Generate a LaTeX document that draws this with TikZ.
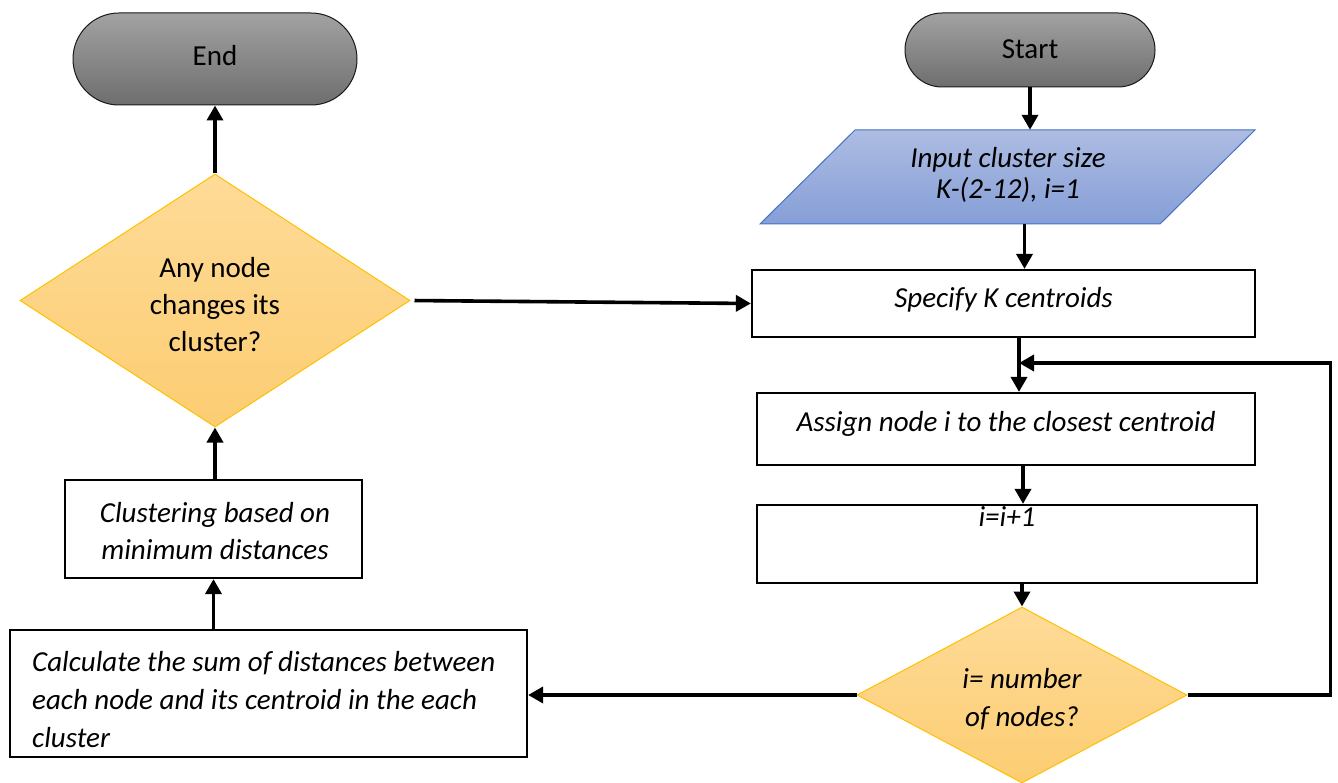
\documentclass[tikz,border=0pt]{standalone}
\usepackage{fontspec}
\setmainfont{Carlito}
\usetikzlibrary{shapes.geometric,shapes.misc,arrows.meta}

\definecolor{termtop}{HTML}{A2A2A2}
\definecolor{termbot}{HTML}{6E6E6E}
\definecolor{iotop}{HTML}{ADBCE2}
\definecolor{iobot}{HTML}{869FD7}
\definecolor{ioedge}{HTML}{4472C4}
\definecolor{dectop}{HTML}{FEDB98}
\definecolor{decbot}{HTML}{FCCD72}
\definecolor{decedge}{HTML}{FFC000}

\begin{document}
\begin{tikzpicture}[x=1pt,y=-1pt,
  font=\fontsize{29}{37}\selectfont,
  flow/.style={line width=3.6pt, -{Triangle[length=15pt,width=16pt]}},
  proc/.style={rectangle, draw=black, line width=2.2pt, fill=white, inner sep=0pt},
  term/.style={rounded rectangle, draw=black!90, line width=1pt,
    top color=termtop, bottom color=termbot, inner sep=0pt},
  iofill/.style={draw=ioedge, line width=1pt, top color=iotop, bottom color=iobot},
  decision/.style={diamond, draw=decedge, line width=1pt,
    top color=dectop, bottom color=decbot, inner sep=0pt},
  txt/.style={align=center, inner sep=0pt},
  itx/.style={align=center, inner sep=0pt, font=\fontsize{29}{37}\selectfont\itshape}
]
\useasboundingbox (0,0) rectangle (1338,783);

% terminals
\node[term, minimum width=250pt, minimum height=74pt] (start) at (1030,50) {};
\node[txt] (startT) at (1030,49) {Start};
\node[term, minimum width=284pt, minimum height=92pt] (end) at (215,59) {};
\node[txt] (endT) at (215,56) {End};

% input parallelogram
\node[rectangle, inner sep=0pt, minimum width=400pt, minimum height=94pt] (input) at (1007.5,177) {};
\shade[iofill] (760,224) -- (855,130) -- (1255,130) -- (1160,224) -- cycle;
\node[itx, font=\fontsize{29}{31}\selectfont\itshape] (inputT) at (1008,175) {Input cluster size\\K-(2-12), i=1};

% process boxes on the right
\node[proc, minimum width=503pt, minimum height=67pt] (spec) at (1003.5,303.5) {};
\node[itx] (specT) at (1003.5,300) {Specify K centroids};
\node[proc, minimum width=498pt, minimum height=72pt] (assign) at (1006,429) {};
\node[itx] (assignT) at (1006,424) {Assign node i to the closest centroid};
\node[proc, minimum width=500pt, minimum height=78pt] (inc) at (1007,544) {};
\node[itx] (incT) at (1007,517) {i=i+1};

% loop test
\node[decision, minimum width=330pt, minimum height=176pt] (d2) at (1022,695) {};
\node[itx, font=\fontsize{29}{38}\selectfont\itshape] (d2T) at (1022,699) {i= number\\of nodes?};

% left column
\node[proc, minimum width=517pt, minimum height=127pt] (calc) at (268.5,693.5) {};
\node[inner sep=0pt, align=left, anchor=west, font=\fontsize{29}{38}\selectfont\itshape] (calcT) at (32,700)
  {Calculate the sum of distances between\\each node and its centroid in the each\\cluster};
\node[proc, minimum width=297pt, minimum height=98pt] (clus) at (213.5,529) {};
\node[itx] (clusT) at (215,531) {Clustering based on\\minimum distances};

\node[decision, minimum width=390pt, minimum height=253pt] (d1) at (215,300.5) {};
\node[txt] (d1T) at (215,305) {Any node\\changes its\\cluster?};

% connectors
\draw[flow] (start.south) -- (start.south |- input.north);
\draw[flow] ([xshift=17pt]input.south) -- ([xshift=17pt]input.south |- spec.north);
\draw[flow] ([xshift=15.5pt]spec.south) -- ([xshift=15.5pt]spec.south |- assign.north);
\draw[flow] ([xshift=17pt]assign.south) -- ([xshift=17pt]assign.south |- inc.north);
\draw[flow] (inc.south -| d2.north) -- (d2.north);
\coordinate (join) at (1019,363);
\draw[flow] (d2.east) -- ++(143,0) |- (join);
\draw[flow] (d2.west) -- (d2.west -| calc.east);
\draw[flow] (clus.south |- calc.north) -- (clus.south);
\draw[flow] (clus.north -| d1.south) -- (d1.south);
\draw[flow] (d1.north) -- (end.south);
\draw[flow, shorten <=4pt] (d1.east) -- (spec.west);
\end{tikzpicture}
\end{document}
